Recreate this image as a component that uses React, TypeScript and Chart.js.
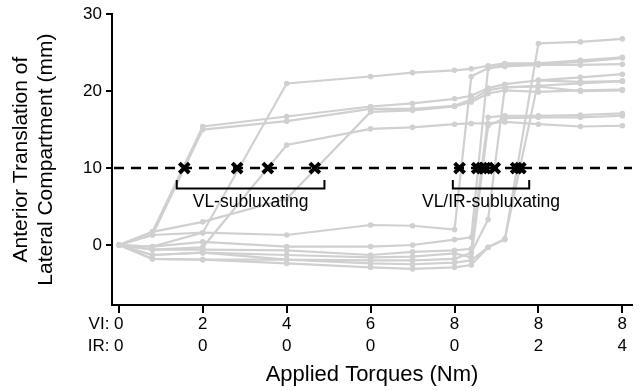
import { useEffect, useRef } from 'react';
import { Chart, registerables } from 'chart.js';

Chart.register(...registerables);

const FONT = '"Liberation Sans", Arial, Helvetica, sans-serif';

// ---- data ----
const torqueSteps = [0, 0.8, 2, 4, 6, 7, 8, 8.4, 8.8, 9.2, 10, 11, 12];
const tickSteps = [0, 2, 4, 6, 8, 10, 12];
const viTickLabels = ['0', '2', '4', '6', '8', '8', '8'];
const irTickLabels = ['0', '0', '0', '0', '0', '2', '4'];
const yTickValues = [0, 10, 20, 30];
const subluxThreshold = 10;

// VL-subluxating specimens
const vl1 = [0, 1.7, 15.4, 16.7, 18.0, 18.4, 19.0, 19.4, 20.4, 20.9, 21.4, 21.8, 22.2];
const vl2 = [0, 1.3, 15.0, 16.1, 17.7, 17.7, 18.1, 18.9, 20.1, 20.5, 20.7, 21.0, 21.3];
const vl3 = [0, -0.2, 1.6, 21.0, 21.9, 22.4, 22.7, 22.9, 23.3, 23.6, 23.6, 24.0, 24.4];
const vl4 = [0, -0.6, -0.3, 13.0, 15.1, 15.3, 15.7, 15.8, 15.8, 16.0, 15.7, 15.4, 15.5];
const vl5 = [0, 1.7, 3.0, 6.0, 17.3, 17.5, 18.0, 18.6, 19.7, 20.1, 19.9, 20.1, 20.2];

// VL/IR-subluxating specimens
const ir1 = [0, 1.3, 1.6, 1.3, 2.6, 2.5, 2.0, 21.9, 23.0, 23.4, 23.5, 23.8, 24.3];
const ir2 = [0, -0.2, 0.4, -0.2, -0.2, 0.0, 0.7, 1.0, 23.0, 23.2, 23.4, 23.4, 23.5];
const ir3 = [0, -0.6, -0.6, -0.7, -1.3, -0.9, -0.7, -0.5, 16.6, 16.8, 16.8, 16.9, 17.1];
const ir4 = [0, -1.3, -1.0, -1.3, -1.6, -1.5, -1.1, -1.6, 15.5, 16.5, 16.6, 16.6, 16.8];
const ir5 = [0, -1.3, -1.0, -1.9, -2.0, -2.0, -1.8, -1.0, 3.3, 20.5, 20.6, 20.0, 20.1];
const ir6 = [0, -1.8, -1.9, -1.9, -2.4, -2.5, -2.3, -2.0, -0.3, 0.7, 26.2, 26.4, 26.8];
const ir7 = [0, -1.8, -1.9, -2.4, -2.9, -3.1, -2.9, -2.6, -0.3, 0.8, 21.4, 21.2, 21.3];

const specimens = [vl1, vl2, vl3, vl4, vl5, ir1, ir2, ir3, ir4, ir5, ir6, ir7];

// torque at which each specimen subluxated (crossing 10 mm)
const vlSubluxTorque = [1.56, 2.82, 3.55, 4.67];
const vlirSubluxTorque = [8.12, 8.54, 8.65, 8.73, 8.96, 9.47, 9.57];

// group brackets (torque ranges) and labels
const groupLabels = ['VL-subluxating', 'VL/IR-subluxating'];
const groupRanges = [
  [1.38, 4.9],
  [7.96, 9.78],
];

const TICK_SIZE = 17;
const TICK_LH = 1.25;

const overlayPlugin = {
  id: 'overlay',
  beforeDatasetDraw(chart: any, args: any) {
    if (args.index !== 0) return;
    const { ctx, chartArea, scales } = chart;
    const py = scales.y.getPixelForValue(subluxThreshold);
    ctx.save();
    ctx.strokeStyle = '#000';
    ctx.lineWidth = 2.5;
    ctx.setLineDash([10, 7]);
    ctx.beginPath();
    ctx.moveTo(chartArea.left + 2, py);
    ctx.lineTo(chartArea.right, py);
    ctx.stroke();
    ctx.restore();
  },
  afterDraw(chart: any) {
    const { ctx, chartArea, scales } = chart;
    const x = scales.x;
    const y = scales.y;
    ctx.save();
    ctx.strokeStyle = '#000';
    ctx.lineWidth = 2;
    ctx.setLineDash([]);
    const yTop = y.getPixelForValue(8.45);
    const yBot = y.getPixelForValue(7.35);
    groupRanges.forEach((r, i) => {
      const x0 = x.getPixelForValue(r[0]);
      const x1 = x.getPixelForValue(r[1]);
      ctx.beginPath();
      ctx.moveTo(x0, yTop);
      ctx.lineTo(x0, yBot);
      ctx.lineTo(x1, yBot);
      ctx.lineTo(x1, yTop);
      ctx.stroke();
      ctx.fillStyle = '#000';
      ctx.font = `17.5px ${FONT}`;
      ctx.textAlign = 'center';
      ctx.textBaseline = 'middle';
      ctx.fillText(groupLabels[i], (x0 + x1) / 2, y.getPixelForValue(5.55));
    });
    ctx.font = `${TICK_SIZE}px ${FONT}`;
    ctx.textAlign = 'right';
    ctx.textBaseline = 'middle';
    const lh = TICK_SIZE * TICK_LH;
    const rowTop = chartArea.bottom + 8 + 1;
    const px0 = x.getPixelForValue(tickSteps[0]);
    const w0 = ctx.measureText(viTickLabels[0]).width;
    const sp = ctx.measureText(' ').width;
    ctx.fillText('VI:', px0 - w0 / 2 - sp, rowTop + lh / 2);
    ctx.fillText('IR:', px0 - w0 / 2 - sp, rowTop + lh * 1.5);
    ctx.restore();
  },
};

export default function App() {
  const ref = useRef<HTMLCanvasElement>(null);
  useEffect(() => {
    document.body.style.margin = '0';
    const canvas = ref.current;
    if (!canvas) return;
    const gray = 'rgb(208,208,208)';
    const lineSets = specimens.map((s, k) => ({
      type: 'line' as const,
      label: `specimen ${k + 1}`,
      data: torqueSteps.map((t, i) => ({ x: t, y: s[i] })),
      borderColor: gray,
      backgroundColor: gray,
      borderWidth: 2.2,
      pointRadius: 2.8,
      pointBorderWidth: 0,
      pointBackgroundColor: gray,
      tension: 0,
    }));
    const crossSet = {
      type: 'scatter' as const,
      label: 'subluxation',
      data: [...vlSubluxTorque, ...vlirSubluxTorque].map((t) => ({ x: t, y: subluxThreshold })),
      pointStyle: 'crossRot',
      pointRadius: 7,
      borderWidth: 4,
      borderColor: '#000',
      backgroundColor: '#000',
      showLine: false,
    };
    const chart = new Chart(canvas, {
      type: 'line',
      data: { datasets: [crossSet as any, ...lineSets] },
      options: {
        animation: false,
        responsive: false,
        devicePixelRatio: 1,
        layout: { padding: { top: 14, right: 0, left: 0, bottom: 0 } },
        plugins: { legend: { display: false }, tooltip: { enabled: false } },
        scales: {
          x: {
            type: 'linear',
            min: -0.163,
            max: 12.23,
            afterBuildTicks: (s: any) => {
              s.ticks = tickSteps.map((v) => ({ value: v }));
            },
            afterFit: (s: any) => {
              s.height = 86;
            },
            border: { display: true, color: '#000', width: 2 },
            grid: { display: true, drawOnChartArea: false, drawTicks: true, tickLength: 8, color: '#000', lineWidth: 2 },
            ticks: {
              callback: (_v: any, i: number) => [viTickLabels[i], irTickLabels[i]],
              color: '#000',
              font: { family: FONT, size: TICK_SIZE, lineHeight: TICK_LH },
              padding: 1,
              maxRotation: 0,
              autoSkip: false,
            },
            title: {
              display: true,
              text: 'Applied Torques (Nm)',
              color: '#000',
              font: { family: FONT, size: 22, lineHeight: 1.2 },
              padding: { top: 0, bottom: 3 },
            },
          },
          y: {
            type: 'linear',
            min: -7.8,
            max: 30,
            afterBuildTicks: (s: any) => {
              s.ticks = yTickValues.map((v) => ({ value: v }));
            },
            afterFit: (s: any) => {
              s.width = 112;
            },
            border: { display: true, color: '#000', width: 2 },
            grid: { display: true, drawOnChartArea: false, drawTicks: true, tickLength: 6, color: '#000', lineWidth: 2 },
            ticks: {
              color: '#000',
              font: { family: FONT, size: TICK_SIZE },
              padding: 4,
            },
            title: {
              display: true,
              text: ['Anterior Translation of', 'Lateral Compartment (mm)'],
              color: '#000',
              font: { family: FONT, size: 21, lineHeight: 1.2 },
              padding: { top: 8.5, bottom: 0 },
            },
          },
        },
      },
      plugins: [overlayPlugin],
    });
    return () => chart.destroy();
  }, []);
  return (
    <div style={{ width: 643, height: 391 }}>
      <canvas ref={ref} width={643} height={391} style={{ display: 'block' }} />
    </div>
  );
}
